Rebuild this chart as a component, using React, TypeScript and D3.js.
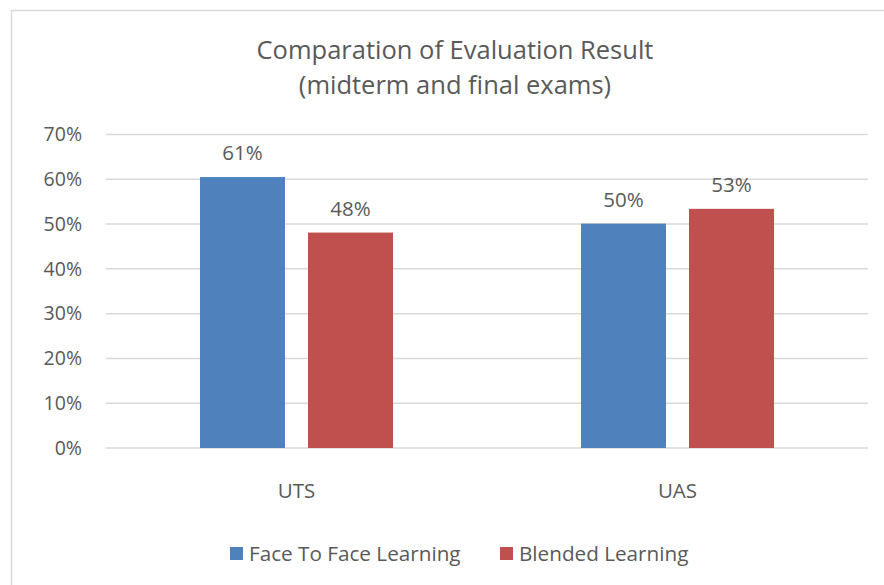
import React from 'react';
import * as d3 from 'd3';

const categories = ['UTS', 'UAS'];
const seriesNames = ['Face To Face Learning', 'Blended Learning'];
const faceToFace = [0.605, 0.501];
const blended = [0.481, 0.534];
const yTicks = [0, 0.1, 0.2, 0.3, 0.4, 0.5, 0.6, 0.7];
const colors = ['#4F81BD', '#C0504D'];

const W = 884;
const H = 585;
const FONT = '"Open Sans", sans-serif';
const TEXT = '#595959';

const App = () => {
  const x = d3.scaleBand().domain(categories).range([106, 868]);
  const xs = d3
    .scaleBand()
    .domain(seriesNames)
    .range([0, x.bandwidth()])
    .paddingInner(0.213)
    .paddingOuter(0.87);
  const y = d3.scaleLinear().domain([0, 0.7]).range([448, 134.5]);
  const values = [faceToFace, blended];
  const fmt = d3.format('.0%');

  return (
    <svg
      width={W}
      height={H}
      style={{ position: 'absolute', left: 0, top: 0, display: 'block' }}
      fontFamily={FONT}
    >
      <rect x={0} y={0} width={W} height={H} fill="#fff" />
      <rect x={11.5} y={10.5} width={W + 20} height={H + 20} fill="#fff" stroke="#D9D9D9" strokeWidth={1.5} />

      {/* title */}
      <text x={455} y={59} textAnchor="middle" fontSize={25.5} fill={TEXT}>
        Comparation of Evaluation Result
      </text>
      <text x={455} y={94} textAnchor="middle" fontSize={25.5} fill={TEXT}>
        (midterm and final exams)
      </text>

      {/* grid + y labels */}
      {yTicks.map((t) => (
        <g key={t}>
          <line x1={106} x2={868} y1={y(t)} y2={y(t)} stroke="#D9D9D9" strokeWidth={1.5} />
          <text x={82} y={y(t)} dy="0.35em" textAnchor="end" fontSize={19.5} fill={TEXT}>
            {fmt(t)}
          </text>
        </g>
      ))}

      {/* bars */}
      {seriesNames.map((s, si) => (
        <g key={s}>
          {categories.map((c, ci) => {
            const bx = (x(c) || 0) + (xs(s) || 0);
            const v = values[si][ci];
            return (
              <g key={c}>
                <rect
                  x={bx}
                  y={y(v)}
                  width={xs.bandwidth()}
                  height={y(0) - y(v)}
                  fill={colors[si]}
                />
                <text
                  x={bx + xs.bandwidth() / 2}
                  y={y(v) - 17}
                  textAnchor="middle"
                  fontSize={20.5}
                  fill={TEXT}
                >
                  {fmt(v)}
                </text>
              </g>
            );
          })}
        </g>
      ))}

      {/* category labels */}
      {categories.map((c) => (
        <text
          key={c}
          x={(x(c) || 0) + x.bandwidth() / 2}
          y={498}
          textAnchor="middle"
          fontSize={20.5}
          fill={TEXT}
        >
          {c}
        </text>
      ))}

      {/* legend */}
      {seriesNames.map((s, i) => {
        const lx = [230, 500][i];
        return (
          <g key={s}>
            <rect x={lx} y={547} width={13} height={13} fill={colors[i]} />
            <text x={lx + 19} y={561} fontSize={20.7} fill={TEXT}>
              {s}
            </text>
          </g>
        );
      })}
    </svg>
  );
};

export default App;
